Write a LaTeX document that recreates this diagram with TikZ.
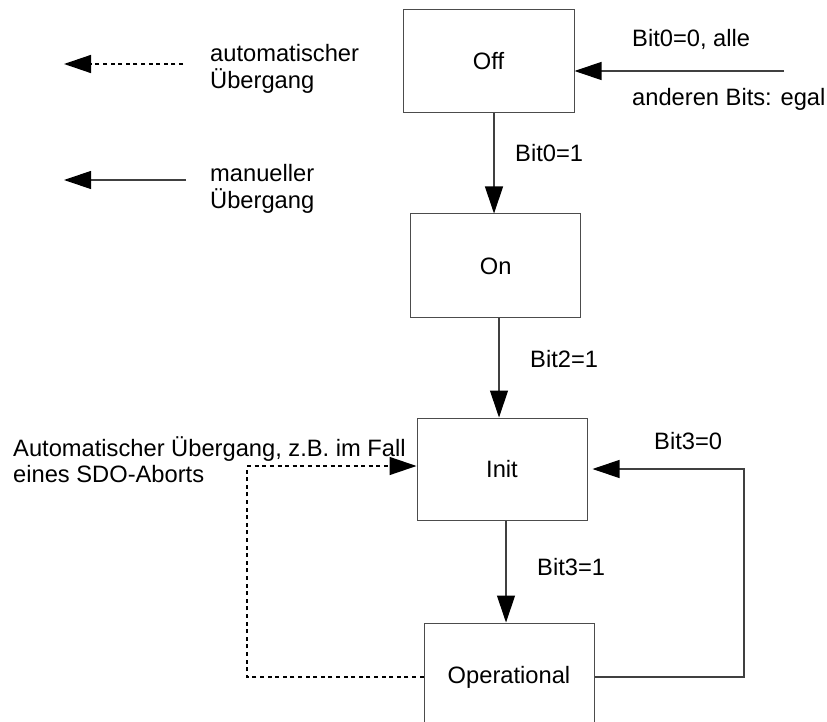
\documentclass[tikz,border=0pt]{standalone}
\usepackage{fontspec}
\setmainfont{Liberation Sans}
\usetikzlibrary{arrows.meta}
\begin{document}
\begin{tikzpicture}[x=1pt,y=-1pt,
  font=\fontsize{23.7}{27}\selectfont,
  state/.style={draw=black!70, line width=1pt, rectangle, inner sep=0pt,
    minimum width=170pt, minimum height=103pt, text height=17pt, text depth=0pt},
  lbl/.style={inner sep=0pt, anchor=base west},
  arr/.style={draw=black!75, line width=1.1pt,
    -{Triangle[length=27pt,width=18pt,color=black]}},
  dotline/.style={draw=black, line width=1.4pt, dash pattern=on 4pt off 3.6pt}
]
\useasboundingbox (0,0) rectangle (827,722);

% states
\node[state, minimum width=171pt] (off) at (488.5,61.5) {Off};
\node[state] (on) at (495.7,265.5) {On};
\node[state, minimum height=102pt] (init) at (502,469) {Init};
\node[state] (op) at (509,674.5) {Operational};

% legend
\coordinate (l1s) at (183,64);
\coordinate (l1e) at (64,64);
\coordinate (l2s) at (186,180);
\coordinate (l2e) at (64,180);
\draw[arr, dotline] (l1s) -- (l1e);
\draw[arr] (l2s) -- (l2e);
\node[lbl] (auto1) at (210,62) {automatischer};
\node[lbl] (auto2) at (210,89) {Übergang};
\node[lbl] (man1) at (210,182) {manueller};
\node[lbl] (man2) at (210,208) {Übergang};

% incoming to Off
\coordinate (in) at (784,71);
\draw[arr] (in) -- (in -| off.east);
\node[lbl] (b00a) at (632,47) {Bit0=0, alle};
\node[lbl] (b00b) at (632,106) {anderen Bits: egal};

% vertical transitions
\draw[arr] ([xshift=5.5pt]off.south) -- ([xshift=-1.7pt]on.north);
\node[lbl] (b01) at (515,162) {Bit0=1};
\draw[arr] ([xshift=3.3pt]on.south) -- ([xshift=-3pt]init.north);
\node[lbl] (b21) at (530,367) {Bit2=1};
\draw[arr] ([xshift=4pt]init.south) -- ([xshift=-3pt]op.north);
\node[lbl] (b31) at (537,575) {Bit3=1};

% back loop Operational -> Init (manual)
\coordinate (r) at (744,469);
\draw[arr, shorten >=5pt] ([yshift=-2.5pt]op.east) -| (r) -- (init.east);
\node[lbl] (b30) at (654,449) {Bit3=0};

% automatic loop Operational -> Init
\coordinate (lc) at (247,466);
\draw[arr, dotline] ([yshift=-2.5pt]op.west) -| (lc) -- ([yshift=3pt]init.west);
\node[lbl] (aut1) at (13,456) {Automatischer Übergang, z.B. im Fall};
\node[lbl] (aut2) at (13,482) {eines SDO-Aborts};
\end{tikzpicture}
\end{document}
